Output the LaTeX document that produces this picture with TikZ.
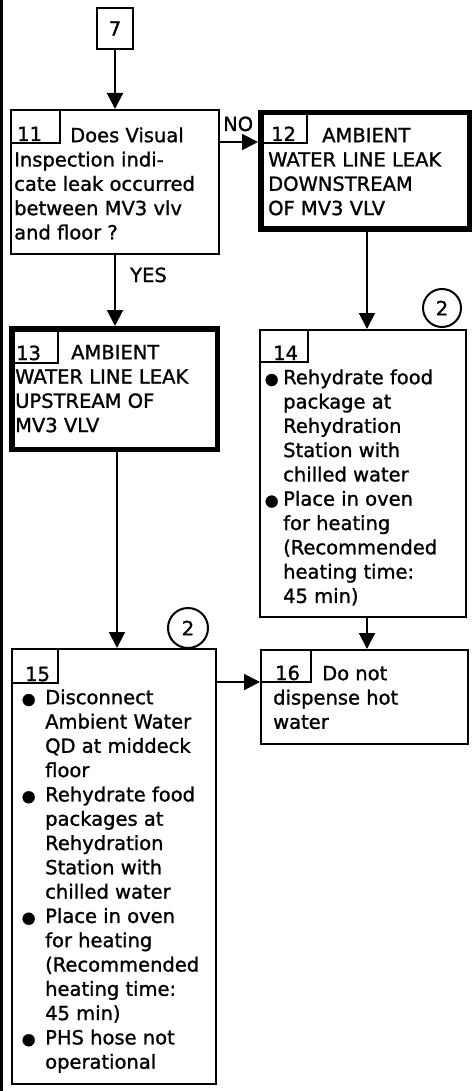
\documentclass[tikz,border=0pt]{standalone}
\usepackage{fontspec}
\setmainfont{DejaVu Sans}[FakeBold=1.2]
\usetikzlibrary{arrows.meta,calc}
\newcommand\bulw[1]{\makebox[#1][l]{\hspace*{-1.5pt}\fontsize{16}{16}\selectfont ●}}
\newcommand\st{\rule{0pt}{16pt}}
\begin{document}
\begin{tikzpicture}[x=1pt,y=-1pt,
  box/.style={draw, line width=2pt, rectangle, inner sep=0pt},
  thickbox/.style={draw, line width=5.5pt, rectangle, inner sep=0pt},
  txt/.style={anchor=north west, inner sep=0pt, align=left, font=\fontsize{19.5}{24.3}\selectfont},
  lbl/.style={anchor=base west, inner sep=0pt, font=\fontsize{19.5}{24.3}\selectfont},
  arr/.style={line width=2pt, -{Triangle[length=16pt,width=16pt]}},
  tab/.style={line width=1.8pt},
  ring/.style={circle, draw, line width=2pt, inner sep=0pt, font=\fontsize{19.5}{24.3}\selectfont},
]
\useasboundingbox (0,0) rectangle (475,1091);
% left page rule
\draw[line width=2.5pt] (1.25,0) -- (1.25,1091);

% boxes
\node[box, minimum width=36pt, minimum height=41pt, font=\fontsize{19.5}{24.3}\selectfont] (b7) at (115,28.5) {7};
\node[box, minimum width=208pt, minimum height=144pt] (b11) at (115,182) {};
\node[thickbox, minimum width=208.5pt, minimum height=116.5pt] (b12) at (365,171) {};
\node[thickbox, minimum width=205.5pt, minimum height=120.5pt] (b13) at (114.5,389) {};
\node[box, minimum width=206pt, minimum height=287pt] (b14) at (363,473.5) {};
\node[box, minimum width=204pt, minimum height=435pt] (b15) at (114,866.5) {};
\node[box, minimum width=207pt, minimum height=94pt] (b16) at (364.5,697) {};

% tabs
\draw[tab] (12,143) -- (60,143) -- (60,110);
\draw[tab] (262,143) -- (307,143) -- (307,113);
\draw[tab] (13,363) -- (58,363) -- (58,330);
\draw[tab] (260,362) -- (308,362) -- (308,330);
\draw[tab] (12,683) -- (58,683) -- (58,649);
\draw[tab] (261,682) -- (311,682) -- (311,650);

% numbers
\node[lbl] (n11) at (17,141) {11};
\node[lbl] (n12) at (271,141) {12};
\node[lbl] (n13) at (16,360) {13};
\node[lbl] (n14) at (273,360) {14};
\node[lbl] (n15) at (25,681) {15};
\node[lbl] (n16) at (275,680) {16};

% texts
\node[txt] (t11) at (14,126) {\st\hspace*{56pt}Does Visual\\Inspection indi-\\cate leak occurred\\between MV3 vlv\\and floor ?};
\node[txt] (t12) at (268,126) {\st\hspace*{54pt}AMBIENT\\WATER LINE LEAK\\DOWNSTREAM\\OF MV3 VLV};
\node[txt] (t13) at (15,343) {\st\hspace*{56pt}AMBIENT\\WATER LINE LEAK\\UPSTREAM OF\\MV3 VLV};
\node[txt] (t14) at (266,368) {\st\bulw{17pt}Rehydrate food\\\hspace*{17pt}package at\\\hspace*{17pt}Rehydration\\\hspace*{17pt}Station with\\\hspace*{17pt}chilled water\\\bulw{17pt}Place in oven\\\hspace*{17pt}for heating\\\hspace*{17pt}(Recommended\\\hspace*{17pt}heating time:\\\hspace*{17pt}45 min)};
\node[txt] (t15) at (23,688) {\st\bulw{22pt}Disconnect\\\hspace*{22pt}Ambient Water\\\hspace*{22pt}QD at middeck\\\hspace*{22pt}floor\\\bulw{22pt}Rehydrate food\\\hspace*{22pt}packages at\\\hspace*{22pt}Rehydration\\\hspace*{22pt}Station with\\\hspace*{22pt}chilled water\\\bulw{22pt}Place in oven\\\hspace*{22pt}for heating\\\hspace*{22pt}(Recommended\\\hspace*{22pt}heating time:\\\hspace*{22pt}45 min)\\\bulw{22pt}PHS hose not\\\hspace*{22pt}operational};
\node[txt] (t16) at (273,664) {\st\hspace*{49pt}Do not\\dispense hot\\water};

% labels
\node[lbl] (no) at (223,131) {NO};
\node[lbl] (yes) at (130,282) {YES};

% circled references
\node[ring, minimum size=38pt] (c14) at (442,308) {2};
\node[ring, minimum size=40pt] (c15) at (188,628) {2};

% connectors
\coordinate (yNO) at (0,142);
\coordinate (y16) at (0,682);
\coordinate (xR) at (367,0);
\coordinate (xL) at (117,0);
\draw[arr] (b7.south) -- (b11.north);
\draw[arr] (b11.east |- yNO) -- (b12.west |- yNO);
\draw[arr] (b11.south) -- (b11.south |- b13.north);
\draw[arr] (b12.south -| xR) -- (b14.north -| xR);
\draw[arr] (b13.south -| xL) -- (b15.north -| xL);
\draw[arr] (b14.south -| xR) -- (b16.north -| xR);
\draw[arr] (b15.east |- y16) -- (b16.west |- y16);
\end{tikzpicture}
\end{document}
